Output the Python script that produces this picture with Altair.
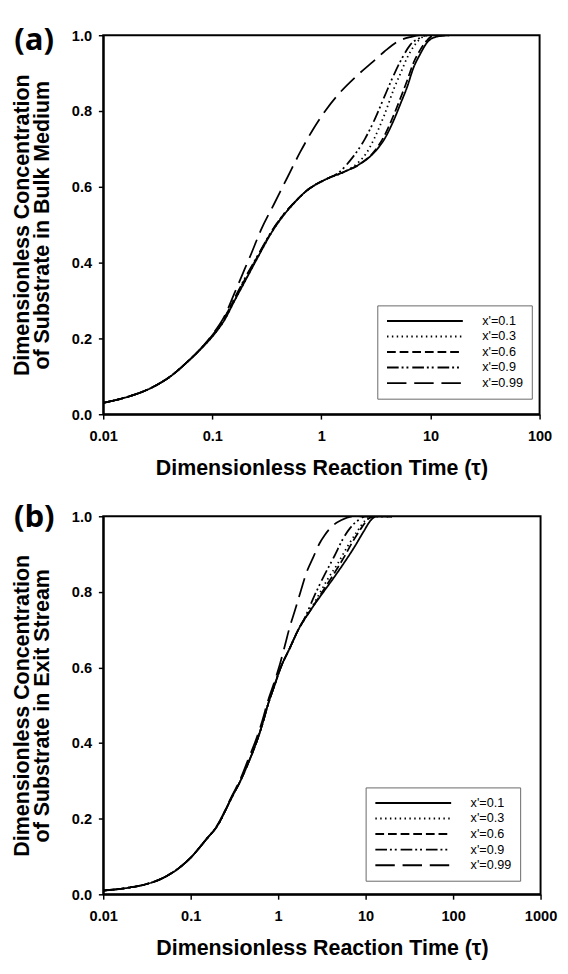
import altair as alt
import pandas as pd

# ---------------- data ----------------
series_names = ["x'=0.1", "x'=0.3", "x'=0.6", "x'=0.9", "x'=0.99"]
panel_labels = ["(a)", "(b)"]
x_title = "Dimensionless Reaction Time (τ)"
y_title_a = ["Dimensionless Concentration", "of Substrate in Bulk Medium"]
y_title_b = ["Dimensionless Concentration", "of Substrate in Exit Stream"]
x_ticks_a = [0.01, 0.1, 1, 10, 100]
x_ticks_b = [0.01, 0.1, 1, 10, 100, 1000]
y_ticks = [0.0, 0.2, 0.4, 0.6, 0.8, 1.0]

# Panel (a): bulk medium
a_tau_01 = [0.01, 0.015, 0.02, 0.03, 0.04, 0.06, 0.08, 0.1, 0.13, 0.16, 0.2, 0.262, 0.35, 0.45, 0.557,
            0.733, 1.1, 1.66, 2.19, 3.08, 3.78, 4.64, 5.32, 6.1, 7.0, 8.0, 9.2, 11.3, 15]
a_y_01 = [0.03, 0.042, 0.053, 0.075, 0.097, 0.14, 0.175, 0.205, 0.25, 0.30, 0.352, 0.415, 0.48, 0.525, 0.556,
          0.59, 0.62, 0.641, 0.658, 0.692, 0.726, 0.778, 0.82, 0.863, 0.915, 0.949, 0.979, 0.996, 1.0]

a_tau_03 = [0.01, 0.015, 0.02, 0.03, 0.04, 0.06, 0.08, 0.1, 0.13, 0.16, 0.2, 0.262, 0.35, 0.45, 0.557,
            0.733, 1.1, 1.66, 2.19, 2.6, 3.08, 3.78, 4.64, 5.32, 6.1, 7.0, 8.0, 9.5, 15]
a_y_03 = [0.03, 0.042, 0.053, 0.075, 0.097, 0.14, 0.175, 0.205, 0.25, 0.30, 0.352, 0.415, 0.48, 0.525, 0.556,
          0.59, 0.62, 0.641, 0.665, 0.69, 0.73, 0.79, 0.86, 0.90, 0.94, 0.97, 0.99, 1.0, 1.0]

a_tau_06 = [0.01, 0.015, 0.02, 0.03, 0.04, 0.06, 0.08, 0.1, 0.13, 0.16, 0.2, 0.262, 0.35, 0.45, 0.557,
            0.733, 1.1, 1.66, 2.19, 3.08, 3.78, 4.64, 5.32, 6.1, 7.0, 8.0, 9.2, 10.5, 15]
a_y_06 = [0.03, 0.042, 0.053, 0.075, 0.097, 0.14, 0.175, 0.207, 0.255, 0.305, 0.357, 0.418, 0.482, 0.527, 0.557,
          0.59, 0.62, 0.641, 0.658, 0.695, 0.735, 0.792, 0.835, 0.88, 0.928, 0.96, 0.985, 0.998, 1.0]

a_tau_09 = [0.01, 0.015, 0.02, 0.03, 0.04, 0.06, 0.08, 0.1, 0.13, 0.16, 0.2, 0.262, 0.35, 0.45, 0.557,
            0.733, 1.1, 1.4, 1.9, 2.5, 3.08, 3.78, 4.64, 5.5, 6.5, 8.0, 9.5, 15]
a_y_09 = [0.03, 0.042, 0.053, 0.075, 0.097, 0.14, 0.176, 0.208, 0.256, 0.306, 0.36, 0.42, 0.483, 0.527, 0.557,
          0.59, 0.62, 0.635, 0.675, 0.726, 0.778, 0.838, 0.897, 0.94, 0.974, 0.993, 1.0, 1.0]

a_tau_099 = [0.01, 0.015, 0.02, 0.03, 0.04, 0.06, 0.08, 0.1, 0.13, 0.16, 0.2, 0.221, 0.28, 0.37, 0.486,
             0.64, 0.84, 1.1, 1.45, 2.04, 2.88, 3.78, 4.98, 6.5, 8.0, 15]
a_y_099 = [0.03, 0.042, 0.053, 0.075, 0.097, 0.14, 0.176, 0.21, 0.26, 0.32, 0.386, 0.415, 0.487, 0.556, 0.624,
           0.692, 0.752, 0.803, 0.846, 0.889, 0.927, 0.957, 0.983, 0.995, 1.0, 1.0]

# Panel (b): exit stream
b_tau_01 = [0.01, 0.02, 0.03, 0.05, 0.07, 0.1, 0.15, 0.2, 0.3, 0.37, 0.46, 0.56, 0.66, 0.76, 0.9, 1.07,
            1.35, 1.7, 2.4, 3.3, 4.4, 5.6, 7.5, 9.5, 11.5, 13.5, 20]
b_y_01 = [0.01, 0.018, 0.026, 0.045, 0.066, 0.097, 0.145, 0.18, 0.26, 0.30, 0.35, 0.40, 0.45, 0.50, 0.55, 0.60,
          0.65, 0.70, 0.755, 0.80, 0.84, 0.875, 0.92, 0.96, 0.99, 1.0, 1.0]

b_tau_03 = [0.01, 0.02, 0.03, 0.05, 0.07, 0.1, 0.15, 0.2, 0.3, 0.37, 0.46, 0.56, 0.66, 0.76, 0.9, 1.07,
            1.35, 1.7, 2.1, 2.8, 3.6, 4.8, 6.2, 8.0, 10.0, 12.0, 20]
b_y_03 = [0.01, 0.018, 0.026, 0.045, 0.066, 0.097, 0.145, 0.18, 0.26, 0.30, 0.35, 0.40, 0.45, 0.50, 0.55, 0.60,
          0.65, 0.70, 0.735, 0.785, 0.83, 0.875, 0.92, 0.96, 0.99, 1.0, 1.0]

b_tau_06 = [0.01, 0.02, 0.03, 0.05, 0.07, 0.1, 0.15, 0.2, 0.3, 0.37, 0.46, 0.56, 0.66, 0.76, 0.9, 1.07,
            1.35, 1.7, 2.4, 3.3, 4.4, 5.6, 7.2, 9.0, 11.0, 13.0, 20]
b_y_06 = [0.01, 0.018, 0.026, 0.045, 0.066, 0.097, 0.145, 0.18, 0.26, 0.30, 0.35, 0.40, 0.45, 0.50, 0.55, 0.60,
          0.65, 0.70, 0.755, 0.805, 0.85, 0.89, 0.935, 0.97, 0.995, 1.0, 1.0]

b_tau_09 = [0.01, 0.02, 0.03, 0.05, 0.07, 0.1, 0.15, 0.2, 0.3, 0.37, 0.46, 0.56, 0.66, 0.76, 0.9, 1.07,
            1.35, 1.7, 2.0, 2.6, 3.3, 4.4, 5.5, 6.7, 8.3, 10.0, 20]
b_y_09 = [0.01, 0.018, 0.026, 0.045, 0.066, 0.097, 0.145, 0.18, 0.26, 0.30, 0.35, 0.40, 0.45, 0.50, 0.55, 0.60,
          0.65, 0.70, 0.73, 0.79, 0.84, 0.895, 0.94, 0.97, 0.99, 1.0, 1.0]

b_tau_099 = [0.01, 0.02, 0.03, 0.05, 0.07, 0.1, 0.15, 0.2, 0.3, 0.37, 0.46, 0.56, 0.66, 0.76, 0.9, 1.05,
             1.2, 1.33, 1.55, 1.8, 2.1, 2.5, 3.0, 3.4, 4.2, 5.3, 7.5, 20]
b_y_099 = [0.01, 0.018, 0.026, 0.045, 0.066, 0.097, 0.145, 0.182, 0.263, 0.305, 0.36, 0.41, 0.46, 0.51, 0.56, 0.61,
           0.66, 0.70, 0.75, 0.80, 0.85, 0.89, 0.93, 0.95, 0.975, 0.99, 1.0, 1.0]

# ---------------- styling ----------------
dash_patterns = [[1, 0], [1.5, 3.5], [9, 4], [12, 3, 2, 3, 2, 4], [20, 8]]
FONT = "Liberation Sans"


def make_df(taus, ys):
    rows = []
    for name, t, v in zip(series_names, taus, ys):
        for i, (ti, vi) in enumerate(zip(t, v)):
            rows.append({"tau": ti, "value": vi, "series": name, "idx": i})
    return pd.DataFrame(rows)


df_a = make_df([a_tau_01, a_tau_03, a_tau_06, a_tau_09, a_tau_099],
               [a_y_01, a_y_03, a_y_06, a_y_09, a_y_099])
df_b = make_df([b_tau_01, b_tau_03, b_tau_06, b_tau_09, b_tau_099],
               [b_y_01, b_y_03, b_y_06, b_y_09, b_y_099])


def panel(df, x_domain, x_ticks, y_title, label, legend_xy, label_y, w, h):
    lines = alt.Chart(df).mark_line(
        color="black", strokeWidth=1.8, interpolate="monotone", clip=True
    ).encode(
        x=alt.X("tau:Q",
                scale=alt.Scale(type="log", domain=x_domain, nice=False),
                axis=alt.Axis(values=x_ticks, format="~g", title=x_title,
                              labelFont=FONT, labelFontSize=15, labelFontWeight="bold",
                              labelColor="black", labelPadding=10,
                              titleFont=FONT, titleFontSize=22, titleFontWeight="bold",
                              titleColor="black", titlePadding=15,
                              tickColor="black", tickSize=5, tickWidth=1.5,
                              domainColor="black", domainWidth=2, grid=False,
                              labelFlush=False, labelOverlap=False)),
        y=alt.Y("value:Q",
                scale=alt.Scale(domain=[0, 1], nice=False),
                axis=alt.Axis(values=y_ticks, format=".1f", title=y_title,
                              labelFont=FONT, labelFontSize=15, labelFontWeight="bold",
                              labelColor="black", labelPadding=7,
                              titleFont=FONT, titleFontSize=22, titleFontWeight="bold",
                              titleColor="black", titlePadding=18, titleLineHeight=21,
                              tickColor="black", tickSize=5, tickWidth=1.5,
                              domainColor="black", domainWidth=2, grid=False,
                              labelFlush=False)),
        strokeDash=alt.StrokeDash(
            "series:N",
            scale=alt.Scale(domain=series_names, range=dash_patterns),
            legend=alt.Legend(orient="none", legendX=legend_xy[0], legendY=legend_xy[1],
                              title=None, symbolType="stroke", symbolSize=78 * 78,
                              symbolStrokeWidth=2, symbolStrokeColor="black",
                              clipHeight=14, rowPadding=2, padding=9, labelOffset=19,
                              labelFont=FONT, labelFontSize=13, labelColor="black",
                              strokeColor="#666666")),
        order="idx:Q",
    )
    lab = alt.Chart(pd.DataFrame({"panel": [label]})).mark_text(
        font="Open Sans", fontWeight="bold", fontSize=32, align="center",
        baseline="middle", color="black"
    ).encode(text="panel:N", x=alt.value(-71), y=alt.value(label_y))
    return alt.layer(lines, lab).properties(width=w, height=h)


chart_a = panel(df_a, [0.01, 100], x_ticks_a, y_title_a, panel_labels[0], (282, 278), 5, 449, 390)
chart_b = panel(df_b, [0.01, 1000], x_ticks_b, y_title_b, panel_labels[1], (270, 279), 1.5, 450, 389)

chart = alt.vconcat(chart_a, chart_b, spacing=22).resolve_scale(
    x="independent", strokeDash="independent"
).resolve_legend(strokeDash="independent").configure_view(
    stroke="black", strokeWidth=2
).properties(
    padding={"left": 2, "top": 2, "right": 2, "bottom": 2}
)

chart.save("out.html", embed_options={"renderer": "svg", "actions": False})
